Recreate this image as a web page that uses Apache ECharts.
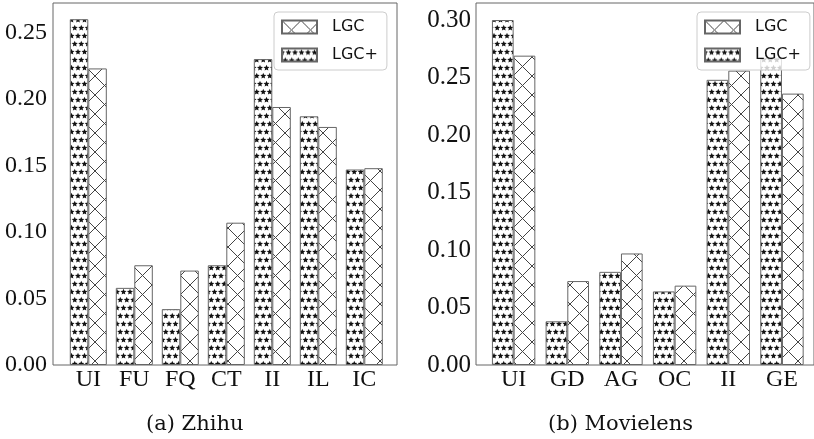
<!DOCTYPE html>
<html>
<head>
<meta charset="utf-8">
<script src="https://cdn.jsdelivr.net/npm/echarts@6/dist/echarts.min.js"></script>
<style>
  html, body { margin: 0; padding: 0; background: #fff; }
  #chart { width: 814px; height: 439px; }
</style>
</head>
<body>
<div id="chart"></div>
<script>
  // (a) Zhihu
  var catsA = ['UI', 'FU', 'FQ', 'CT', 'II', 'IL', 'IC'];
  var lgcA = [0.223, 0.075, 0.071, 0.107, 0.194, 0.179, 0.148];
  var lgcPlusA = [0.260, 0.058, 0.042, 0.075, 0.230, 0.187, 0.147];
  // (b) Movielens
  var catsB = ['UI', 'GD', 'AG', 'OC', 'II', 'GE'];
  var lgcB = [0.269, 0.073, 0.097, 0.069, 0.256, 0.236];
  var lgcPlusB = [0.300, 0.038, 0.081, 0.064, 0.248, 0.267];

  var yMaxA = 0.2722, yMaxB = 0.3148, yStep = 0.05;

  // hatch tiles
  function crossTile() {
    var P = 19;
    var c = document.createElement('canvas');
    c.width = P; c.height = P;
    var g = c.getContext('2d');
    g.fillStyle = '#fff';
    g.fillRect(0, 0, P, P);
    g.strokeStyle = '#444';
    g.lineWidth = 1;
    g.beginPath();
    g.moveTo(0, 0); g.lineTo(P, P);
    g.moveTo(0, P); g.lineTo(P, 0);
    g.stroke();
    return c;
  }
  function star(g, cx, cy, R, r) {
    g.beginPath();
    for (var i = 0; i < 10; i++) {
      var rad = i % 2 === 0 ? R : r;
      var a = -Math.PI / 2 + i * Math.PI / 5;
      var x = cx + rad * Math.cos(a), y = cy + rad * Math.sin(a);
      if (i === 0) g.moveTo(x, y); else g.lineTo(x, y);
    }
    g.closePath();
    g.fill();
  }
  function starTile() {
    var W = 13, H = 16;
    var c = document.createElement('canvas');
    c.width = W; c.height = H;
    var g = c.getContext('2d');
    g.fillStyle = '#fff';
    g.fillRect(0, 0, W, H);
    g.fillStyle = '#111';
    var pts = [[0, 4], [6.5, 4], [13, 4], [3.25, 12], [9.75, 12]];
    pts.forEach(function (p) { star(g, p[0], p[1], 3.2, 1.4); });
    return c;
  }
  var crossFill = { image: crossTile(), repeat: 'repeat' };
  var starFill = { image: starTile(), repeat: 'repeat' };

  function tickFont(size) {
    return { fontFamily: 'Liberation Serif', fontSize: size, color: '#111' };
  }

  function frameY(max, idx, margin, size) {
    return {
      gridIndex: idx, type: 'value', min: 0, max: max, interval: yStep,
      axisLine: { show: false }, axisTick: { show: false }, splitLine: { show: false },
      axisLabel: Object.assign({ margin: margin, showMaxLabel: false,
        formatter: function (v) { return v.toFixed(2); } }, tickFont(size))
    };
  }
  function barY(max, idx) {
    return { gridIndex: idx, type: 'value', min: 0, max: max, show: false, splitLine: { show: false } };
  }
  function barX(cats, idx) {
    return {
      gridIndex: idx, type: 'category', data: cats,
      axisLine: { show: false }, axisTick: { show: false },
      axisLabel: Object.assign({ margin: 3, interval: 0 }, tickFont(24))
    };
  }
  function bars(name, data, fill, idx, w) {
    return {
      name: name, type: 'bar', xAxisIndex: idx, yAxisIndex: idx,
      data: data, barWidth: w, barGap: '0%',
      itemStyle: { color: fill, borderColor: '#666', borderWidth: 1 },
      emphasis: { disabled: true }, animation: false
    };
  }
  function legendAt(left) {
    return {
      left: left, top: 12, orient: 'vertical',
      data: ['LGC', 'LGC+'],
      icon: 'rect', itemWidth: 35, itemHeight: 13, itemGap: 12,
      padding: [7, 9, 7, 7],
      backgroundColor: 'rgba(255,255,255,0.8)',
      borderColor: '#ccc', borderWidth: 1, borderRadius: 4,
      textStyle: { fontFamily: 'DejaVu Sans', fontSize: 16, color: '#111', padding: [0, 0, 0, 10] }
    };
  }

  var titleFont = { fontFamily: 'DejaVu Serif', fontSize: 21, fontWeight: 'normal', color: '#111' };

  var chart = echarts.init(document.getElementById('chart'));
  chart.setOption({
    animation: false,
    title: [
      { text: '(a) Zhihu', left: 146, top: 414, padding: 0, textStyle: titleFont },
      { text: '(b) Movielens', left: 548, top: 414, padding: 0, textStyle: titleFont }
    ],
    legend: [legendAt(274), legendAt(697)],
    grid: [
      { left: 53, top: 3, width: 344, height: 362, show: true, borderColor: '#666', borderWidth: 1 },
      { left: 65.3, top: 3, width: 322, height: 362 },
      { left: 476, top: 3, width: 344, height: 362, show: true, borderColor: '#666', borderWidth: 1 },
      { left: 486.8, top: 3, width: 322, height: 362 }
    ],
    xAxis: [
      { gridIndex: 0, type: 'value', show: false },
      barX(catsA, 1),
      { gridIndex: 2, type: 'value', show: false },
      barX(catsB, 3)
    ],
    yAxis: [
      frameY(yMaxA, 0, 6, 24),
      barY(yMaxA, 1),
      frameY(yMaxB, 2, 5, 25),
      barY(yMaxB, 3)
    ],
    series: [
      bars('LGC+', lgcPlusA, starFill, 1, 18.5),
      bars('LGC', lgcA, crossFill, 1, 18.5),
      bars('LGC+', lgcPlusB, starFill, 3, 21.7),
      bars('LGC', lgcB, crossFill, 3, 21.7)
    ]
  });
</script>
</body>
</html>
